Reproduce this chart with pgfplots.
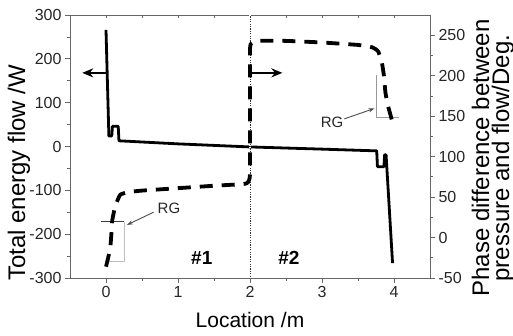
\documentclass[border=0pt]{standalone}
\usepackage{pgfplots}
\pgfplotsset{compat=1.18}
\usepackage{fontspec}
\setmainfont{Liberation Sans}
\usetikzlibrary{arrows.meta}
\begin{document}
\begin{tikzpicture}[x=1pt,y=1pt]
\useasboundingbox (0,0) rectangle (513,336);
\pgfplotsset{
  base/.style={at={(70pt,58pt)}, anchor=south west, scale only axis,
    width=360pt, height=263pt, xmin=-0.5, xmax=4.5,
    axis line style={black!60, line width=0.9pt},
    every tick/.style={black!60, line width=0.8pt},
    major tick length=5pt, minor tick length=3pt,
    tick label style={font=\fontsize{16}{18}\selectfont, text=black!85},
    /pgf/number format/assume math mode=true,
    clip=false},
}
% top ticks (inside)
\begin{axis}[base, ymin=0, ymax=1, axis y line=none, axis x line*=top,
  xtick={0,1,2,3,4}, minor x tick num=1, tick align=inside,
  major tick length=3.5pt, minor tick length=3pt, xticklabels={}]
\end{axis}
% left axis: energy flow
\begin{axis}[base, ymin=-300, ymax=300,
  xtick={0,1,2,3,4}, minor x tick num=1,
  ytick={-300,-200,...,300}, minor y tick num=1,
  xtick pos=bottom, ytick pos=left, tick align=outside,
  xlabel={Location /m},
  xlabel style={font=\fontsize{21}{24}\selectfont, at={(axis description cs:0.5,-0.19)}, anchor=base},
  ylabel={Total energy flow /W},
  ylabel style={font=\fontsize{24}{26}\selectfont, at={(axis description cs:-0.1417,0.40)}, anchor=center},
]
\addplot[black, line width=2.8pt, line join=round] coordinates {
(0.00,266) (0.04,24) (0.08,24) (0.09,46) (0.17,46) (0.18,13)
(1.0,6) (2.0,-1) (3.0,-6) (3.76,-10) (3.77,-46) (3.86,-46) (3.87,-19) (3.89,-19) (3.98,-266)};
\draw[black!80, line width=0.9pt] (axis cs:2,-300) -- (axis cs:2,300);
\draw[white, line width=1pt, dash pattern=on 1.2pt off 1.2pt] (axis cs:2,-300) -- (axis cs:2,300);
% arrows
\draw[black, line width=2.2pt, -{Stealth[length=11pt,width=9pt]}] (axis cs:0,168) -- (axis cs:-0.33,168);
\draw[black, line width=2.2pt, -{Stealth[length=11pt,width=9pt]}] (axis cs:2,168) -- (axis cs:2.45,168);
% RG left
\draw[black!75, line width=0.8pt] (axis cs:-0.07,-172) -- (axis cs:0.25,-172);
\draw[black!25, line width=0.8pt] (axis cs:0.25,-172) -- (axis cs:0.25,-263) -- (axis cs:0,-263);
\draw[black!70, line width=0.9pt, -{Stealth[length=6pt,width=4pt]}] (axis cs:0.66,-150) -- (axis cs:0.29,-179);
\node[font=\fontsize{15}{17}\selectfont, text=black!85] at (axis cs:0.875,-140) {RG};
% RG right
\draw[black!40, line width=0.8pt] (axis cs:3.75,163) -- (axis cs:3.75,67) -- (axis cs:4.07,67);
\draw[black!70, line width=0.9pt, -{Stealth[length=6pt,width=4pt]}] (axis cs:3.31,63) -- (axis cs:3.73,87);
\node[font=\fontsize{15}{17}\selectfont, text=black!85] at (axis cs:3.14,55) {RG};
% zone labels
\node[font=\bfseries\fontsize{19}{21}\selectfont] at (axis cs:1.33,-254) {\#1};
\node[font=\bfseries\fontsize{19}{21}\selectfont] at (axis cs:2.54,-254) {\#2};
\end{axis}
% right axis: phase difference
\begin{axis}[base, ymin=-50, ymax=275, axis x line=none, axis y line*=right,
  ytick={-50,0,...,250}, minor y tick num=1, tick align=outside,
  ylabel={Phase difference between\\pressure and flow/Deg.},
  ylabel style={align=center, font=\fontsize{24}{20}\selectfont, at={(axis description cs:1.175,0.456)}, anchor=center},
]
\addplot[black, line width=3.8pt, dash pattern=on 13pt off 9pt, smooth, tension=0.3] coordinates {
(0.00,-36) (0.03,-25) (0.06,-12) (0.075,5) (0.085,20) (0.12,36) (0.16,46) (0.2,53) (0.3,56) (0.5,58) (1.0,61) (1.5,64) (1.9,66) (1.97,68) (2.0,78)
(2.0,150) (2.0,232) (2.02,240) (2.1,243) (2.5,243) (3.0,241) (3.5,238) (3.7,235) (3.78,230) (3.83,217) (3.86,200) (3.88,180) (3.91,165) (3.95,152) (3.97,145)};
\end{axis}
\end{tikzpicture}
\end{document}
